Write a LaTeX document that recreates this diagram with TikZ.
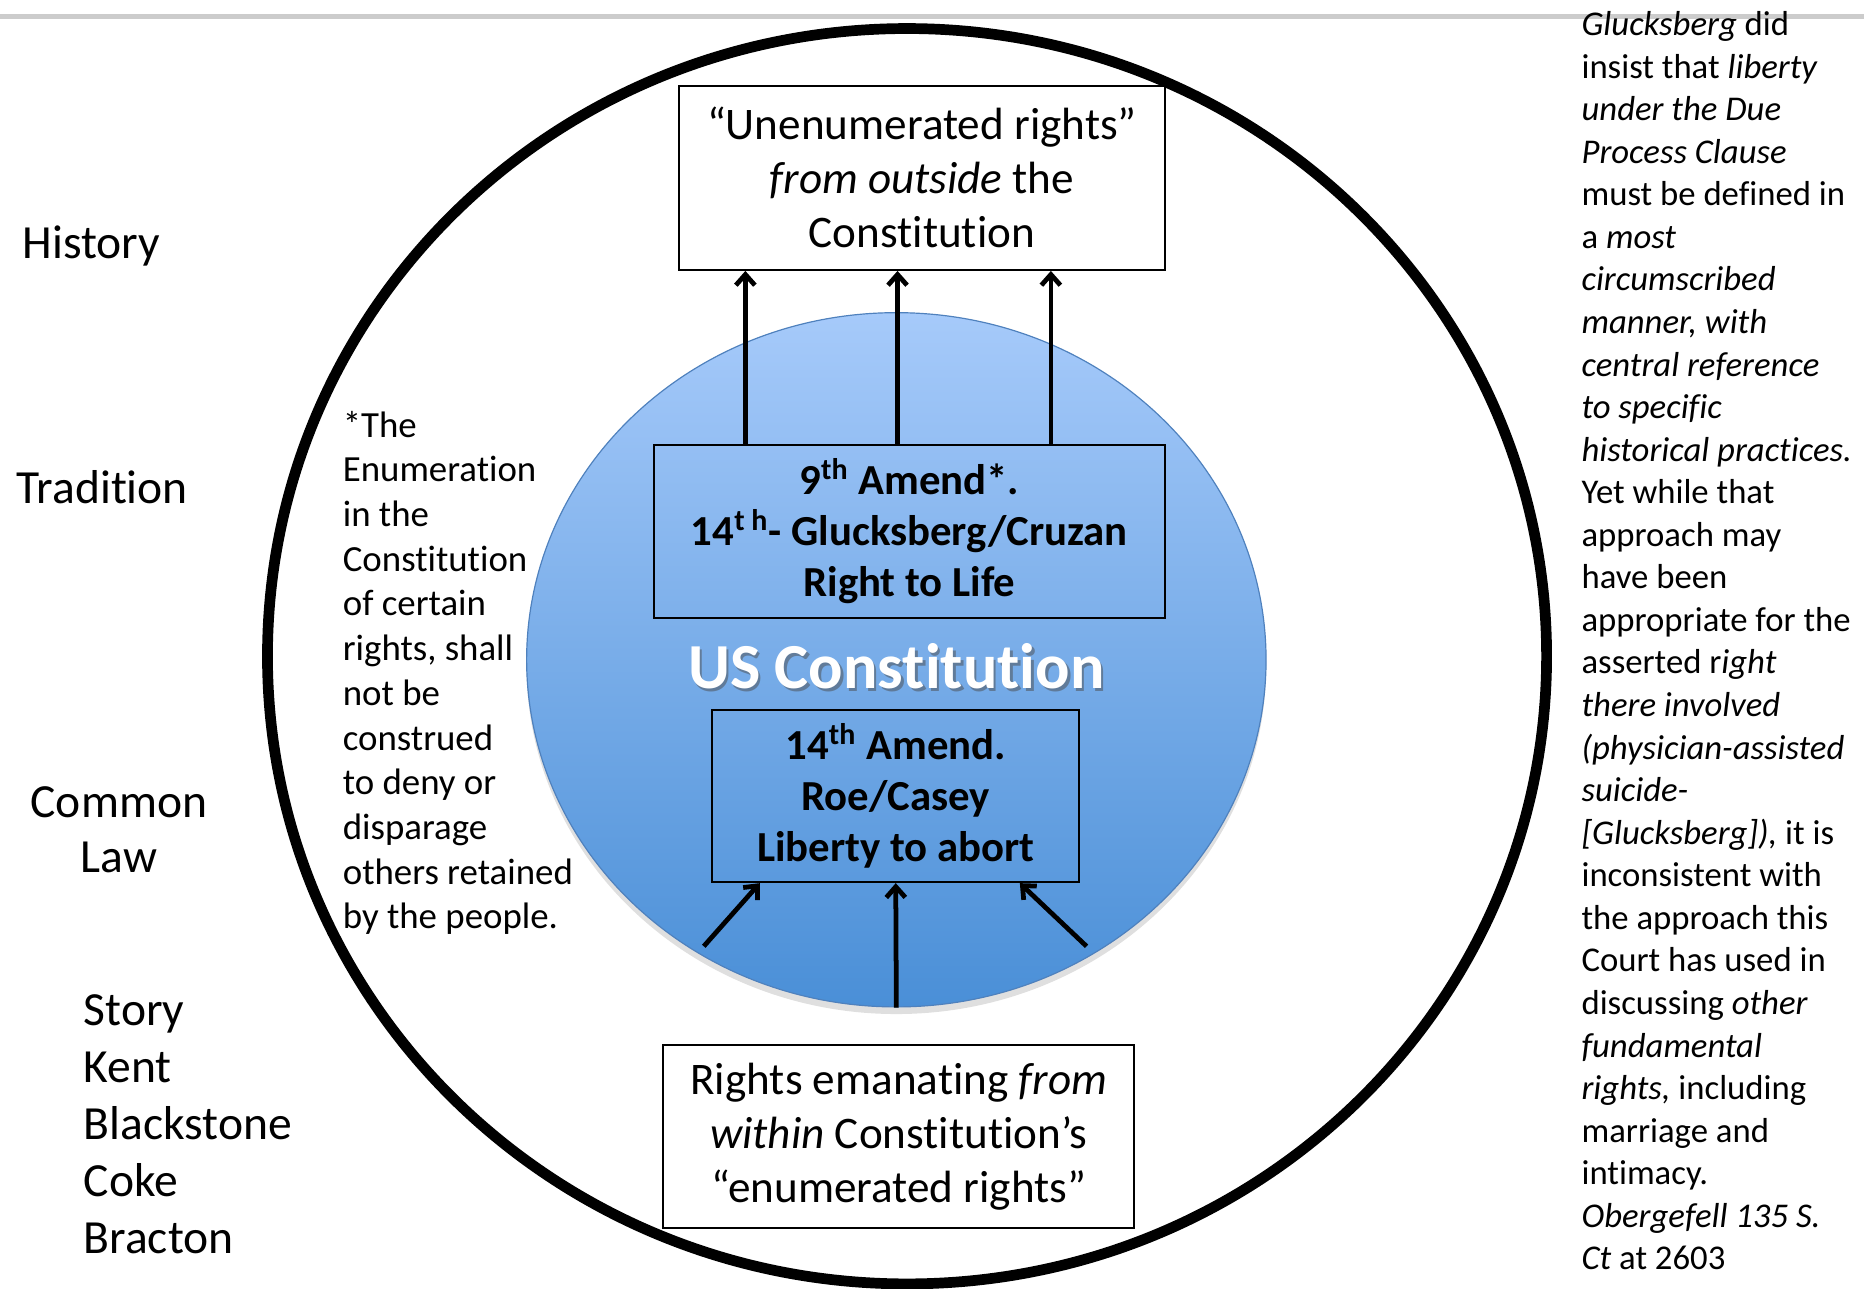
\documentclass[tikz,border=0pt]{standalone}
\usepackage{fontspec}
\setmainfont{Carlito}[Ligatures=NoCommon]
\usetikzlibrary{positioning,calc,arrows.meta,shapes.geometric,shadows}
\definecolor{constTop}{RGB}{166,202,250}
\definecolor{constBot}{RGB}{74,143,215}
\definecolor{constRim}{RGB}{79,129,189}

\begin{document}
\begin{tikzpicture}[
x=0.5pt, y=-0.5pt,
plain/.style={
  draw=none,
  fill=none,
  inner sep=0pt
  },
rightsbox/.style={
  draw,
  fill=white,
  line width=0.9pt,
  align=center,
  inner sep=0pt,
  font=\fontsize{19}{22.75}\selectfont
  },
amendbox/.style={
  draw,
  line width=0.9pt,
  align=center,
  inner sep=0pt,
  font=\bfseries\fontsize{18}{21.5}\selectfont
  },
sidelabel/.style={
  plain,
  font=\fontsize{20}{23.5}\selectfont
  },
link/.style={
  ->,
  line width=2pt
  },
>={Straight Barb[length=4.5pt,width=8pt]}
]
\useasboundingbox (0,0) rectangle (1568,1084);
\draw[gray!40, line width=2pt] (0,14) -- (1568,14);

% outer ring
\draw[line width=4.5pt] (763,552) ellipse [x radius=538, y radius=528];

% constitution
\node[ellipse, draw=constRim, line width=0.5pt, top color=constTop, bottom color=constBot,
  minimum width=311pt, minimum height=292pt,
  drop shadow={opacity=0.25, shadow xshift=0pt, shadow yshift=-3pt}]
  (const) at (754,555) {};
\node[plain, text=black!70, opacity=0.5, font=\bfseries\fontsize{27}{30}\selectfont]
  at (756,563) {US Constitution};
\node[plain, text=white, font=\bfseries\fontsize{27}{30}\selectfont]
  (uscon) at (754,560) {US Constitution};

\node[rightsbox, minimum width=204.5pt, minimum height=77.5pt] (top) at (775.5,149.5)
  {“Unenumerated rights”\\ \textit{from outside} the\\ Constitution};
\node[amendbox, minimum width=215pt, minimum height=73pt] (nine) at (765,447)
  {9\textsuperscript{th} Amend*.\\ 14\textsuperscript{t h}- Glucksberg/Cruzan\\ Right to Life};
\node[amendbox, minimum width=154.5pt, minimum height=72.5pt] (fourteen) at (753.5,669.5)
  {14\textsuperscript{th} Amend.\\ Roe/Casey\\ Liberty to abort};
\node[rightsbox, minimum width=198pt, minimum height=77pt] (within) at (756,956)
  {Rights emanating \textit{from}\\ \textit{within} Constitution’s\\ “enumerated rights”};

\foreach \px in {627,755,884}
{\coordinate (col) at (\px,0);
  \draw[link] (nine.north -| col) -- (top.south -| col);
}

\coordinate (srcL) at (592,796);
\coordinate (srcR) at (914,796);
\draw[link] (srcL) -- ([xshift=20.5pt]fourteen.south west);
\draw[link] (const.south) -- (fourteen.south);
\draw[link] (srcR) -- ([xshift=-25.5pt]fourteen.south east);

% sources
\node[sidelabel] (hist) at (77,207) {History};
\node[sidelabel] (trad) at (86,410) {Tradition};
\node[sidelabel, align=center] (comlaw) at (100,698) {Common\\ Law};
\node[sidelabel, align=left, anchor=west, font=\fontsize{20}{24}\selectfont] (jurists) at (70,946)
  {Story\\ Kent\\ Blackstone\\ Coke\\ Bracton};

\node[plain, align=left, anchor=west, font=\fontsize{15.5}{18.8}\selectfont] (ninenote) at (288,566)
  {*The\\ Enumeration\\ in the\\ Constitution\\ of certain\\ rights, shall\\ not be\\ construed\\
   to deny or\\ disparage\\ others retained\\ by the people.};

\node[plain, align=left, anchor=west, font=\fontsize{14.6}{17.9}\selectfont] (oberg) at (1330,539)
  {\textit{Glucksberg} did\\ insist that \textit{liberty}\\ \textit{under the Due}\\ \textit{Process Clause}\\
   must be defined in\\ a \textit{most}\\ \textit{circumscribed}\\ \textit{manner, with}\\
   \textit{central reference}\\ \textit{to specific}\\ \textit{historical practices.}\\
   Yet while that\\ approach may\\ have been\\ appropriate for the\\ asserted r\textit{ight}\\
   \textit{there involved}\\ \textit{(physician-assisted}\\ \textit{suicide-}\\
   \textit{[Glucksberg]),} it is\\ inconsistent with\\ the approach this\\ Court has used in\\
   discussing \textit{other}\\ \textit{fundamental}\\ \textit{rights,} including\\ marriage and\\
   intimacy.\\ \textit{Obergefell 135 S.}\\ \textit{Ct} at 2603};

\end{tikzpicture}
\end{document}
